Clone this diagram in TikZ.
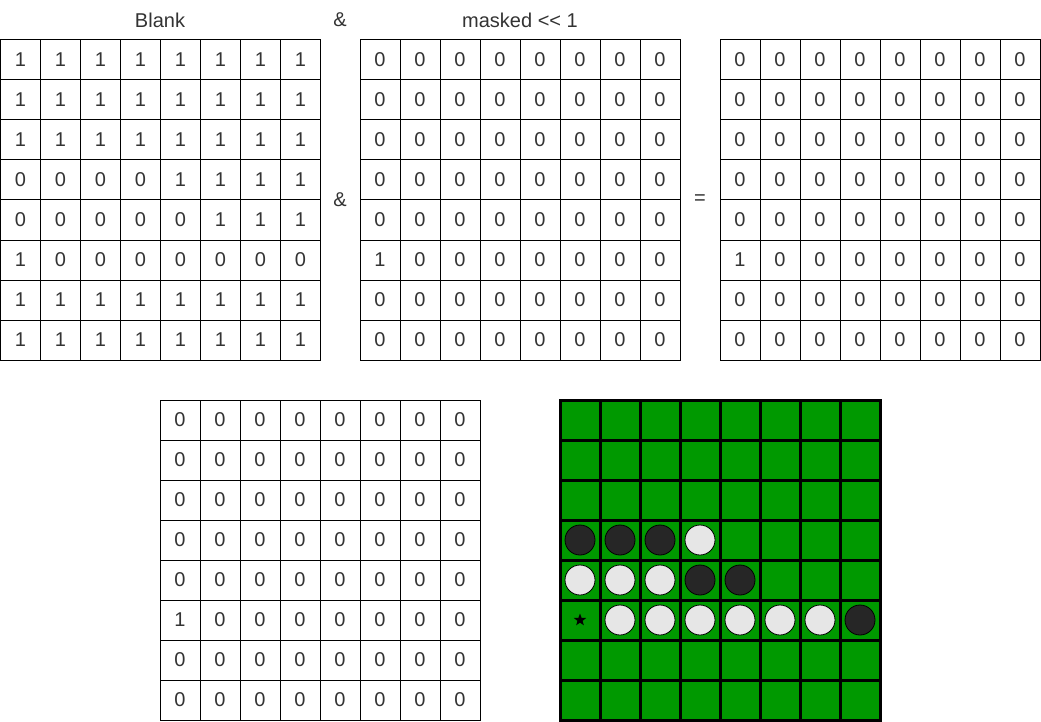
\documentclass[tikz,border=0pt]{standalone}
\usepackage{fontspec}
\setmainfont{Liberation Sans}
\usetikzlibrary{shapes.geometric}
\definecolor{boardgreen}{HTML}{009900}
\definecolor{stoneblack}{HTML}{262626}
\definecolor{stonewhite}{HTML}{E6E6E6}
\definecolor{txt}{HTML}{333333}
\tikzset{
  lbl/.style={font=\fontsize{20}{24}\selectfont, text=txt, inner sep=0pt},
  cell/.style={draw=black, line width=1pt, minimum size=40pt, inner sep=0pt, anchor=center, font=\fontsize{20}{24}\selectfont, text=txt},
  bcell/.style={draw=black, fill=boardgreen, line width=3pt, minimum size=40pt, inner sep=0pt},
  bstone/.style={circle, draw=black, line width=0.8pt, fill=stoneblack, minimum size=30pt, inner sep=0pt},
  wstone/.style={circle, draw=black, line width=0.8pt, fill=stonewhite, minimum size=30pt, inner sep=0pt},
  starmark/.style={star, star points=5, star point ratio=2.4, fill=black, minimum size=13pt, inner sep=0pt}
}
\begin{document}
\begin{tikzpicture}[x=1pt,y=-1pt]
\useasboundingbox[fill=white] (0,0) rectangle (1041,722);
% labels
\node[lbl] (lblank) at (160,20) {Blank};
\node[lbl] (land1) at (340,20) {\&};
\node[lbl] (lmask) at (520,20) {masked <{}< 1};
\node[lbl] (land2) at (340,200) {\&};
\node[lbl] (leq) at (700,200) {=};
% Blank matrix
\foreach \row [count=\r from 0] in {{1,1,1,1,1,1,1,1},{1,1,1,1,1,1,1,1},{1,1,1,1,1,1,1,1},{0,0,0,0,1,1,1,1},{0,0,0,0,0,1,1,1},{1,0,0,0,0,0,0,0},{1,1,1,1,1,1,1,1},{1,1,1,1,1,1,1,1}}{
  \foreach \v [count=\c from 0] in \row {
    \node[cell] (A-\r-\c) at ({20.5+40*\c},{60+40*\r}) {\v};
  }
}
% masked, result, bottom matrices
\foreach \m/\x/\y in {M/360/40, R/720/40, B/160/400}{
  \foreach \r in {0,...,7}{
    \foreach \c in {0,...,7}{
      \pgfmathtruncatemacro{\val}{(\r==5 && \c==0) ? 1 : 0}
      \node[cell] (\m-\r-\c) at ({\x+20+40*\c},{\y+20+40*\r}) {\val};
    }
  }
}
% board
\foreach \r in {0,...,7}{
  \foreach \c in {0,...,7}{
    \node[bcell] (G-\r-\c) at ({580+40*\c},{420+40*\r}) {};
  }
}
% stones
\node[bstone] (s30) at (G-3-0) {};
\node[bstone] (s31) at (G-3-1) {};
\node[bstone] (s32) at (G-3-2) {};
\node[wstone] (s33) at (G-3-3) {};
\node[wstone] (s40) at (G-4-0) {};
\node[wstone] (s41) at (G-4-1) {};
\node[wstone] (s42) at (G-4-2) {};
\node[bstone] (s43) at (G-4-3) {};
\node[bstone] (s44) at (G-4-4) {};
\node[starmark] (st) at (G-5-0) {};
\foreach \c in {1,...,6}{
  \node[wstone] (s5\c) at (G-5-\c) {};
}
\node[bstone] (s57) at (G-5-7) {};
\end{tikzpicture}
\end{document}
